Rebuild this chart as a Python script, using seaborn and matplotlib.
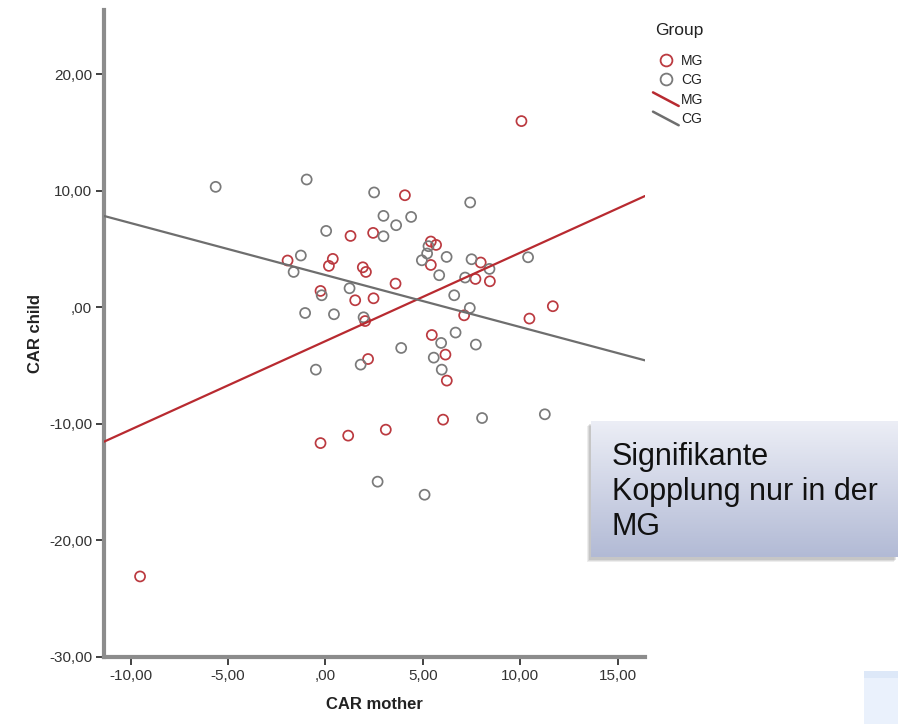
import numpy as np
import pandas as pd
import matplotlib
matplotlib.use("Agg")
import matplotlib.pyplot as plt
import seaborn as sns
from matplotlib.lines import Line2D
from matplotlib.patches import Rectangle
from matplotlib.legend_handler import HandlerBase

# ---------------- data ----------------
group_names = ["MG", "CG"]

mother_mg = [4.08, 1.29, 2.45, 5.41, 5.68, -1.94, 0.38, 0.18, 7.97, 5.41, 1.92, 2.08,
             7.70, 8.44, 3.60, -0.25, 1.53, 2.47, 7.12, 10.47, 11.67, 2.04, 5.46, 6.16,
             2.19, 6.23, 6.04, 3.10, 1.17, -0.25, 10.06, -9.51]
child_mg = [9.61, 6.12, 6.38, 5.64, 5.35, 4.01, 4.15, 3.55, 3.84, 3.63, 3.43, 3.03,
            2.43, 2.23, 2.03, 1.40, 0.60, 0.77, -0.69, -0.97, 0.09, -1.18, -2.38, -4.06,
            -4.44, -6.29, -9.64, -10.50, -11.01, -11.65, 15.97, -23.09]

mother_cg = [-0.96, 2.50, 7.43, 2.98, 4.40, 3.63, 0.04, 2.98, 5.29, 5.22, -1.26, -1.63,
             4.95, 6.22, 7.50, 8.42, 10.40, 5.84, 7.17, 1.24, -0.19, 6.61, -1.04, 0.44,
             1.96, 7.41, 6.68, 5.94, 7.72, 3.89, 5.56, 1.81, -0.49, 5.97, 8.04, 11.26,
             2.68, 5.09, -5.63]
child_cg = [10.96, 9.85, 8.99, 7.84, 7.75, 7.04, 6.55, 6.09, 5.24, 4.61, 4.44, 3.03,
            4.03, 4.32, 4.12, 3.29, 4.29, 2.75, 2.55, 1.63, 1.03, 1.03, -0.49, -0.60,
            -0.86, -0.06, -2.17, -3.06, -3.20, -3.49, -4.32, -4.92, -5.35, -5.35, -9.50,
            -9.18, -14.96, -16.08, 10.33]

x_ticks = [-10, -5, 0, 5, 10, 15]
x_tick_labels = ["-10,00", "-5,00", ",00", "5,00", "10,00", "15,00"]
y_ticks = [-30, -20, -10, 0, 10, 20]
y_tick_labels = ["-30,00", "-20,00", "-10,00", ",00", "10,00", "20,00"]

x_label = "CAR mother"
y_label = "CAR child"
legend_title = "Group"
note_text = "Signifikante\nKopplung nur in der\nMG"

df = pd.DataFrame({
    "mother": mother_mg + mother_cg,
    "child": child_mg + child_cg,
    "group": [group_names[0]] * len(mother_mg) + [group_names[1]] * len(mother_cg),
})

# ---------------- style ----------------
sns.set_theme(style="ticks")
plt.rcParams["font.family"] = ["Liberation Sans", "DejaVu Sans"]

RED = "#bb3a40"
RED_LINE = "#b82a30"
GRAY = "#7a7a7a"
GRAY_LINE = "#6e6e6e"
colors = {group_names[0]: (RED, RED_LINE), group_names[1]: (GRAY, GRAY_LINE)}

W, H = 898, 724
fig = plt.figure(figsize=(W / 100, H / 100), dpi=100)
ax = fig.add_axes([104 / W, 1 - 657 / H, (645 - 104) / W, (657 - 10) / H])

xlim = (-11.36, 16.4)
ylim = (-30, 25.5)
ax.set_xlim(*xlim)
ax.set_ylim(*ylim)

for g in group_names:
    sub = df[df["group"] == g]
    pc, lc = colors[g]
    sns.regplot(data=sub, x="mother", y="child", ax=ax, ci=None, truncate=False,
                color=pc,
                scatter_kws=dict(facecolors="none", edgecolors=pc, s=52,
                                 linewidths=1.25, alpha=1, zorder=3),
                line_kws=dict(color=lc, lw=1.6, zorder=4))
    ax.set_xlim(*xlim)
    ax.set_ylim(*ylim)

ax.set_xticks(x_ticks)
ax.set_xticklabels(x_tick_labels)
ax.set_yticks(y_ticks)
ax.set_yticklabels(y_tick_labels)
ax.tick_params(axis="both", direction="out", length=6, width=1.3, color="#333333",
               labelsize=11, labelcolor="#333333", pad=2.5)

for s in ["top", "right"]:
    ax.spines[s].set_visible(False)
for s in ["left", "bottom"]:
    ax.spines[s].set_color("#8c8c8c")
    ax.spines[s].set_linewidth(3)

ax.set_xlabel(x_label, fontsize=12, fontweight="bold", color="#222222")
ax.set_ylabel(y_label, fontsize=12, fontweight="bold", color="#222222")
ax.xaxis.set_label_coords(0.5, -0.062)
ax.yaxis.set_label_coords(-0.113, 0.5)
ax.set_facecolor("white")


# ---------------- legend with diagonal line keys ----------------
class DiagHandler(HandlerBase):
    def create_artists(self, legend, orig_handle, xdescent, ydescent, width,
                       height, fontsize, trans):
        ln = Line2D([-xdescent, -xdescent + width],
                    [-ydescent + height * 1.15, -ydescent - height * 0.25],
                    color=orig_handle.get_color(), lw=orig_handle.get_linewidth(),
                    transform=trans)
        return [ln]


fig.text(655 / W, 1 - 31 / H, legend_title, ha="left", va="center",
         fontsize=12.5, color="#222222")
h_pts = [Line2D([], [], ls="none", marker="o", mfc="none", mec=colors[g][0],
                ms=8.5, mew=1.3) for g in group_names]
h_lines = [Line2D([], [], color=colors[g][1], lw=1.8) for g in group_names]
hm = {h: DiagHandler() for h in h_lines}
leg = fig.legend(h_pts + h_lines, group_names + group_names,
                 loc="upper left", bbox_to_anchor=(653 / W, 1 - 54 / H),
                 frameon=False, handler_map=hm, fontsize=10,
                 handlelength=1.85, handletextpad=0.15, labelspacing=0.38,
                 borderpad=0, borderaxespad=0)
for t in leg.get_texts():
    t.set_color("#222222")

# ---------------- annotation box with gradient ----------------
bx0, bx1, by0, by1 = 591, 898, 421, 557
for dx, dy, a in [(-4, 5, 0.10), (-3, 4, 0.12), (-2, 3, 0.15)]:
    fig.patches.append(Rectangle(((bx0 + dx) / W, 1 - (by1 + dy) / H),
                                 (bx1 - bx0) / W, (by1 - by0) / H,
                                 transform=fig.transFigure, color="#555555",
                                 alpha=a, lw=0, zorder=1))
bax = fig.add_axes([bx0 / W, 1 - by1 / H, (bx1 - bx0) / W, (by1 - by0) / H], zorder=2)
top_c = np.array([236, 238, 246]) / 255
bot_c = np.array([178, 186, 213]) / 255
tvals = np.linspace(0, 1, 256)[:, None]
grad = (top_c[None, :] * (1 - tvals) + bot_c[None, :] * tvals)[:, None, :]
bax.imshow(grad, aspect="auto", extent=(0, 1, 0, 1), origin="upper")
bax.set_axis_off()
bax.text(21 / (bx1 - bx0), 1 - 21 / (by1 - by0), note_text, transform=bax.transAxes,
         ha="left", va="top", fontsize=22, color="#111111", linespacing=1.22)

# ---------------- light blue corner patch ----------------
fig.patches.append(Rectangle((864 / W, 0), (W - 864) / W, 53 / H,
                             transform=fig.transFigure, color="#eaf1fc", lw=0))
fig.patches.append(Rectangle((864 / W, 1 - 678 / H), (W - 864) / W, 7 / H,
                             transform=fig.transFigure, color="#dde8f8", lw=0))

fig.savefig("out.png", dpi=100, facecolor="white")
